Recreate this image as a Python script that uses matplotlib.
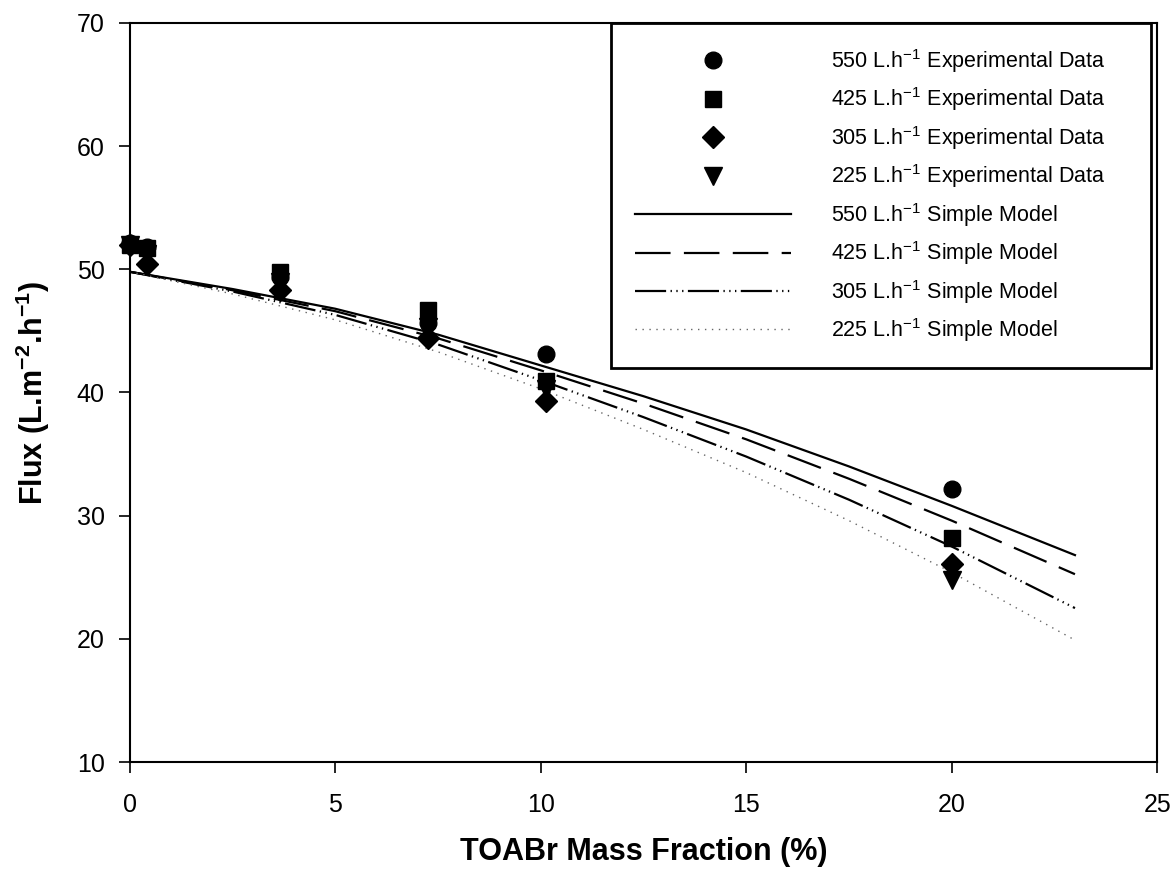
import matplotlib
matplotlib.use("Agg")
import matplotlib.pyplot as plt

plt.rcParams['font.family'] = ['Liberation Sans', 'DejaVu Sans']
plt.rcParams['mathtext.fontset'] = 'custom'
plt.rcParams['mathtext.rm'] = 'Liberation Sans'
plt.rcParams['mathtext.it'] = 'Liberation Sans:italic'
plt.rcParams['mathtext.bf'] = 'Liberation Sans:bold'

# experimental data (TOABr mass fraction %, flux)
x_exp = [0, 0.43, 3.66, 7.26, 10.13, 20.0]
flux_550 = [52.1, 51.8, 49.4, 45.6, 43.1, 32.15]
flux_425 = [52.0, 51.7, 49.8, 46.7, 40.9, 28.2]
flux_305 = [52.0, 50.4, 48.3, 44.4, 39.3, 26.1]
flux_225 = [52.0, 51.2, 49.0, 45.3, 40.3, 24.8]

# simple model curves
x_mod = [0, 2.5, 5, 7.5, 10, 12.5, 15, 17.5, 20, 23]
mod_550 = [49.8, 48.4, 46.8, 44.7, 42.2, 39.7, 37.0, 34.0, 30.8, 26.8]
mod_425 = [49.8, 48.3, 46.6, 44.4, 41.8, 39.1, 36.2, 33.0, 29.6, 25.25]
mod_305 = [49.8, 48.2, 46.3, 43.9, 41.0, 38.0, 34.8, 31.3, 27.5, 22.5]
mod_225 = [49.8, 48.0, 45.9, 43.3, 40.3, 37.0, 33.5, 29.6, 25.4, 19.9]

sup = r"$^{\mathregular{-1}}$"

fig = plt.figure(figsize=(11.73, 8.8), dpi=100)
ax = fig.add_axes([0.1105, 0.134, 0.876, 0.840])

ax.plot(x_exp, flux_550, 'o', color='black', ms=12, clip_on=False, zorder=3,
        label="550 L.h" + sup + " Experimental Data")
ax.plot(x_exp, flux_425, 's', color='black', ms=12, clip_on=False, zorder=3,
        label="425 L.h" + sup + " Experimental Data")
ax.plot(x_exp, flux_305, 'D', color='black', ms=11, clip_on=False, zorder=3,
        label="305 L.h" + sup + " Experimental Data")
ax.plot(x_exp, flux_225, 'v', color='black', ms=12.5, clip_on=False, zorder=3,
        label="225 L.h" + sup + " Experimental Data")

ax.plot(x_mod, mod_550, '-', color='black', lw=1.6, label="550 L.h" + sup + " Simple Model")
ax.plot(x_mod, mod_425, color='black', lw=1.6, dashes=(16, 6), label="425 L.h" + sup + " Simple Model")
ax.plot(x_mod, mod_305, color='black', lw=1.6, dashes=(14, 2, 0.6, 2, 0.6, 2, 0.6, 2),
        label="305 L.h" + sup + " Simple Model")
ax.plot(x_mod, mod_225, color='#666666', lw=1.0, dashes=(1, 4), label="225 L.h" + sup + " Simple Model")

ax.set_xlim(0, 25)
ax.set_ylim(10, 70)
ax.set_xticks([0, 5, 10, 15, 20, 25])
ax.set_yticks([10, 20, 30, 40, 50, 60, 70])
ax.tick_params(direction='out', length=8, width=1.2, labelsize=18, pad=10)
ax.tick_params(axis='x', pad=14)
for s in ax.spines.values():
    s.set_linewidth(1.5)

ax.set_xlabel("TOABr Mass Fraction (%)", fontsize=22, fontweight='bold', labelpad=15)
ax.set_ylabel(r"Flux (L.m$^{\mathbf{-2}}$.h$^{\mathbf{-1}}$)", fontsize=22, fontweight='bold', labelpad=18)

leg = ax.legend(loc='upper left', bbox_to_anchor=(0.4686, 1.0, 0.525, 0.0), mode='expand',
                borderaxespad=0, fontsize=15.5, numpoints=1, handlelength=7.25, handletextpad=1.86,
                labelspacing=0.49, borderpad=1.12, fancybox=False, framealpha=1, edgecolor='black')
leg.get_frame().set_linewidth(2)

fig.savefig("out.png", dpi=100)
